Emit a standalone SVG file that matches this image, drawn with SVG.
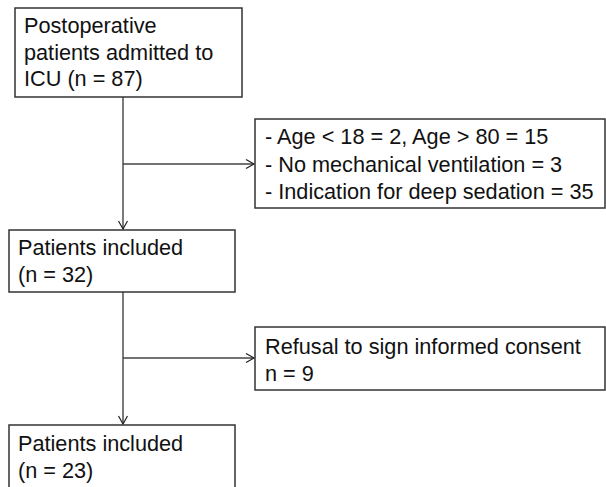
<svg xmlns="http://www.w3.org/2000/svg" width="606" height="487" viewBox="0 0 606 487">
<style>
.box{fill:#fff;stroke:#333;stroke-width:1.5}
.t{font-family:"Liberation Sans",Arial,sans-serif;font-size:21.7px;fill:#111}
.c{fill:none;stroke:#222;stroke-width:1.2}
.h{fill:none;stroke:#444;stroke-width:1.6}
</style>
<defs>
<marker id="arr" markerUnits="userSpaceOnUse" markerWidth="12" markerHeight="12" refX="9" refY="5" orient="auto">
<path d="M1,0.5 L9,5 L1,9.5" fill="none" stroke="#222" stroke-width="1.2"/>
</marker>
</defs>
<rect width="606" height="487" fill="#fff"/>
<g id="connectors">
<line class="c" x1="123" y1="97" x2="123" y2="229" marker-end="url(#arr)"/>
<line class="h" x1="123" y1="164" x2="254" y2="164" marker-end="url(#arr)"/>
<line class="c" x1="123" y1="292" x2="123" y2="424" marker-end="url(#arr)"/>
<line class="h" x1="123" y1="358" x2="254" y2="358" marker-end="url(#arr)"/>
</g>
<g id="n1">
<rect class="box" x="15" y="8" width="227" height="89"/>
<text class="t" x="24" y="33">Postoperative</text>
<text class="t" x="24" y="59.5">patients admitted to</text>
<text class="t" x="24" y="86">ICU (n = 87)</text>
</g>
<g id="n2">
<rect class="box" x="9" y="230" width="226" height="62"/>
<text class="t" x="18" y="255">Patients included</text>
<text class="t" x="18" y="282">(n = 32)</text>
</g>
<g id="n3">
<rect class="box" x="255" y="119" width="350" height="89"/>
<text class="t" x="265" y="144">- Age &lt; 18 = 2, Age &gt; 80 = 15</text>
<text class="t" x="265" y="171.5">- No mechanical ventilation = 3</text>
<text class="t" x="265" y="199">- Indication for deep sedation = 35</text>
</g>
<g id="n4">
<rect class="box" x="255" y="327" width="350" height="63"/>
<text class="t" x="265" y="354">Refusal to sign informed consent</text>
<text class="t" x="265" y="381">n = 9</text>
</g>
<g id="n5">
<rect class="box" x="9" y="425" width="226" height="70"/>
<text class="t" x="18" y="451">Patients included</text>
<text class="t" x="18" y="478">(n = 23)</text>
</g>
</svg>
